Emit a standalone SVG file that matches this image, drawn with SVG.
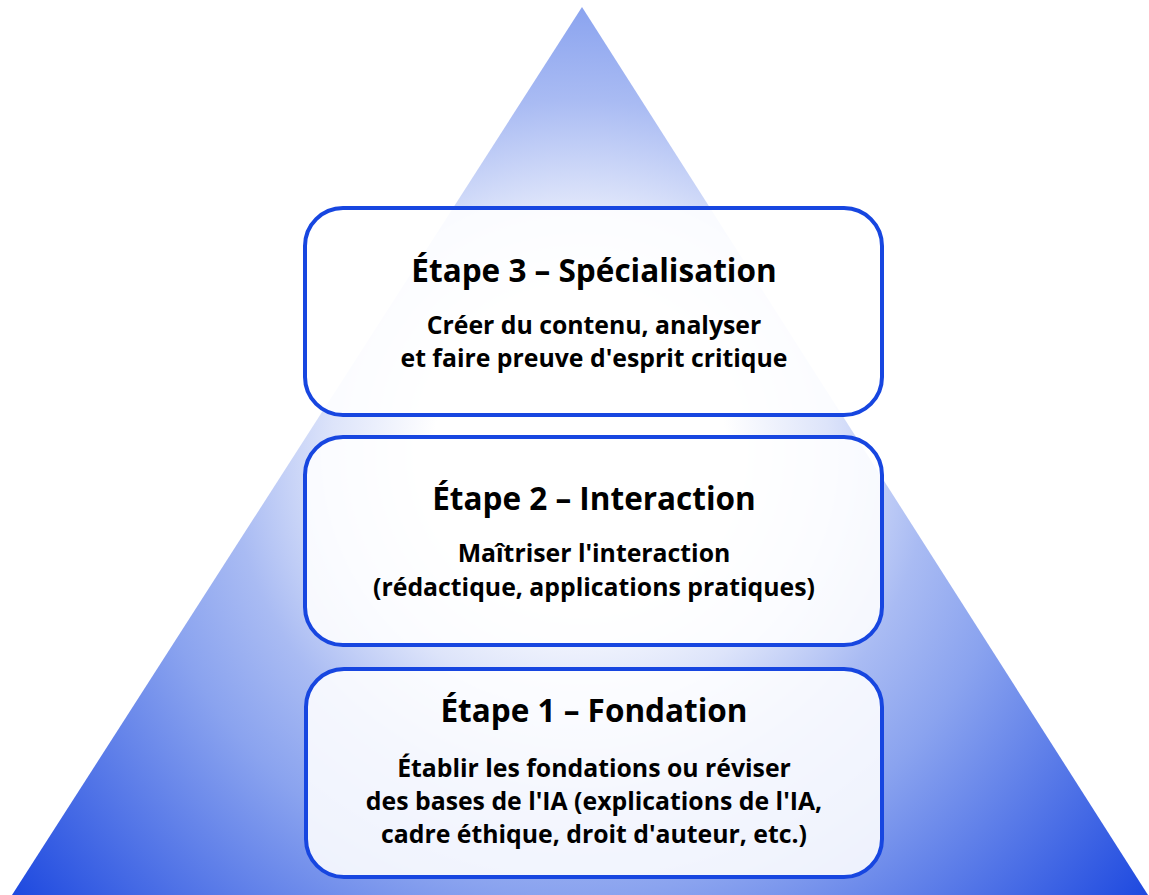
<svg xmlns="http://www.w3.org/2000/svg" width="1149" height="895" viewBox="0 0 1149 895">
  <defs>
    <radialGradient id="pyr" gradientUnits="userSpaceOnUse" cx="580" cy="450" r="730">
      <stop offset="0" stop-color="#ffffff"/>
      <stop offset="0.2" stop-color="#ffffff"/>
      <stop offset="0.34" stop-color="#dde4fa"/>
      <stop offset="0.48" stop-color="#a9bbf3"/>
      <stop offset="0.61" stop-color="#8aa3ef"/>
      <stop offset="1" stop-color="#1a46df"/>
    </radialGradient>
  </defs>
  <style>
    .box { fill: #ffffff; fill-opacity: 0.88; stroke: #1746e0; stroke-width: 4; }
    .title { font-family: "Open Sans", Lato, sans-serif; font-weight: 700; font-size: 31.5px; fill: #000000; text-anchor: middle; }
    .sub { font-family: "Open Sans", Lato, sans-serif; font-weight: 700; font-size: 24.8px; fill: #000000; text-anchor: middle; }
  </style>
  <rect x="0" y="0" width="1149" height="895" fill="#ffffff"/>
  <g id="pyramid">
    <polygon points="582,7 1148,895 12,895" fill="url(#pyr)"/>
  </g>
  <g id="connectors"/>
  <g id="etape3">
    <rect class="box" x="305" y="208" width="577" height="207" rx="38" ry="38"/>
    <text class="title" x="594" y="282">Étape 3 – Spécialisation</text>
    <text class="sub" x="594" y="334">Créer du contenu, analyser</text>
    <text class="sub" x="594" y="367">et faire preuve d'esprit critique</text>
  </g>
  <g id="etape2">
    <rect class="box" x="305" y="437" width="577" height="208" rx="38" ry="38"/>
    <text class="title" x="594" y="510">Étape 2 – Interaction</text>
    <text class="sub" x="594" y="562">Maîtriser l'interaction</text>
    <text class="sub" x="594" y="596">(rédactique, applications pratiques)</text>
  </g>
  <g id="etape1">
    <rect class="box" x="306" y="669" width="576" height="208" rx="38" ry="38"/>
    <text class="title" x="594" y="722">Étape 1 – Fondation</text>
    <text class="sub" x="594" y="777">Établir les fondations ou réviser</text>
    <text class="sub" x="594" y="810">des bases de l'IA (explications de l'IA,</text>
    <text class="sub" x="594" y="843">cadre éthique, droit d'auteur, etc.)</text>
  </g>
</svg>
